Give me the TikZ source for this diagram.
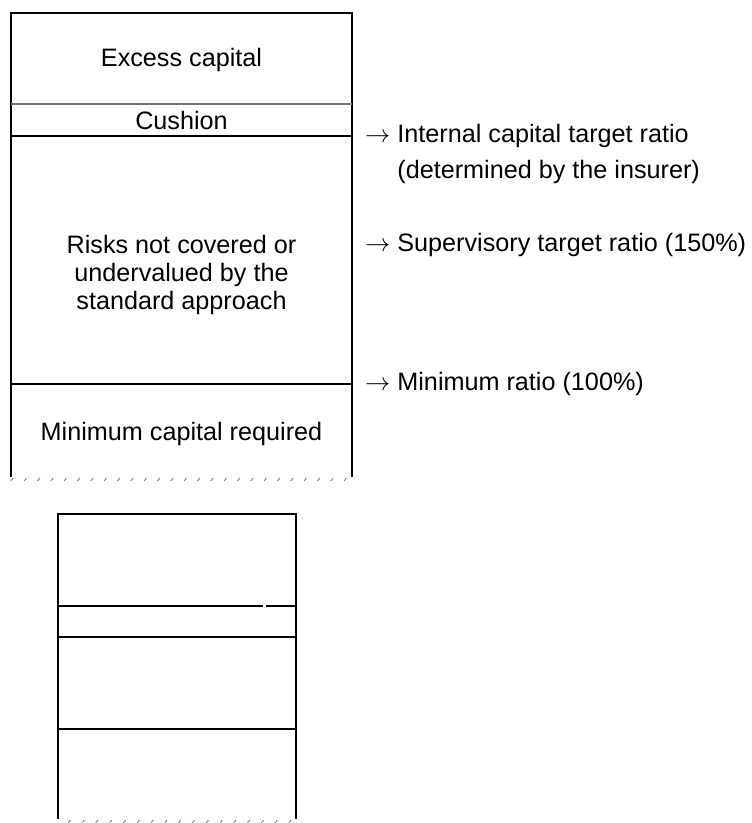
\RequirePackage{fix-cm}
\documentclass[tikz,border=0pt]{standalone}
\usepackage{fontspec}
\setmainfont{Liberation Sans}
\begin{document}
\begin{tikzpicture}[x=1pt,y=-1pt]
\tikzset{
  frame/.style={line width=2pt, black},
  graysep/.style={line width=1.3pt, black!55},
  lbl/.style={font=\fontsize{25.2}{29}\selectfont, inner sep=0pt, anchor=base},
  rlbl/.style={lbl, anchor=base west},
  hatch/.style={line width=0.7pt, black!60}
}
\useasboundingbox (0,0) rectangle (752,823);
% upper column
\draw[frame] (11,477) -- (11,13) -- (352,13) -- (352,477);
\draw[graysep] (11,104) -- (352,104);
\draw[frame] (11,136) -- (352,136);
\draw[frame] (11,384) -- (352,384);
\foreach \i in {0,...,25} \draw[hatch] ({10.8+13.33*\i},481) -- ++(2.5,-3);
\node[lbl] (excess) at (181.5,66) {Excess capital};
\node[lbl] (cushion) at (181.5,129.5) {Cushion};
\node[lbl] (risks1) at (181.5,253.5) {Risks not covered or};
\node[lbl] (risks2) at (181.5,281.5) {undervalued by the};
\node[lbl] (risks3) at (181.5,309.5) {standard approach};
\node[lbl] (mincap) at (181.5,440.5) {Minimum capital required};
% right labels
\node[rlbl] (internal) at (365,142.5) {$\rightarrow$ Internal capital target ratio};
\node[rlbl] (internal2) at (365,178) {\phantom{$\rightarrow$} (determined by the insurer)};
\node[rlbl] (super) at (365,251.5) {$\rightarrow$ Supervisory target ratio (150\%)};
\node[rlbl] (minratio) at (365,390.5) {$\rightarrow$ Minimum ratio (100\%)};
% lower column
\draw[frame] (58,819) -- (58,514) -- (296,514) -- (296,819);
\draw[frame] (58,606) -- (263,606);
\draw[frame] (266,606) -- (296,606);
\draw[frame] (58,637) -- (296,637);
\draw[frame] (58,729) -- (296,729);
\foreach \i in {0,...,16} \draw[hatch] ({68+13.8*\i},823) -- ++(2.5,-3);
\end{tikzpicture}
\end{document}
